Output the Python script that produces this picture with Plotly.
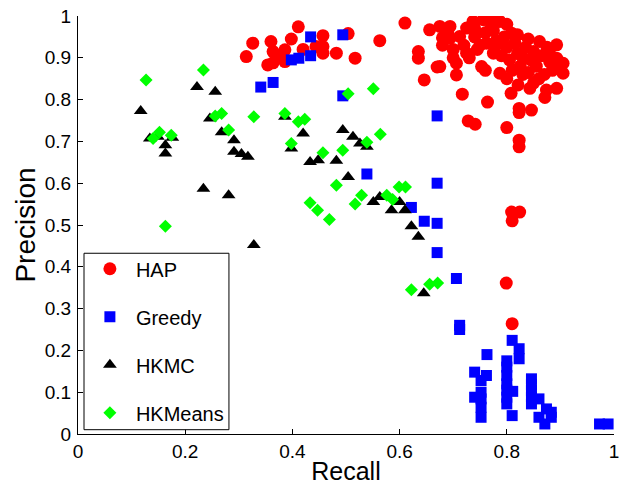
import plotly.graph_objects as go

# ---- data (Recall, Precision) ----
hap_recall = [0.314, 0.326, 0.354, 0.360, 0.364, 0.364, 0.372, 0.386, 0.386, 0.398, 0.411, 0.420,
              0.444, 0.457, 0.457, 0.457, 0.482, 0.504, 0.517, 0.563, 0.610, 0.635, 0.635, 0.646,
              0.656, 0.670, 0.675, 0.680, 0.675, 0.694, 0.690, 0.706, 0.706, 0.712, 0.694, 0.720,
              0.725, 0.725, 0.737, 0.740, 0.745, 0.753, 0.756, 0.760, 0.762, 0.771, 0.775, 0.775,
              0.780, 0.787, 0.790, 0.787, 0.795, 0.800, 0.805, 0.809, 0.810, 0.815, 0.820, 0.825,
              0.830, 0.835, 0.840, 0.845, 0.850, 0.855, 0.861, 0.865, 0.870, 0.875, 0.880, 0.885,
              0.893, 0.893, 0.905, 0.905, 0.893, 0.874, 0.871, 0.843, 0.821, 0.808, 0.717, 0.764,
              0.823, 0.823, 0.846, 0.728, 0.741, 0.800, 0.823, 0.823, 0.809, 0.824, 0.810, 0.799,
              0.810, 0.700, 0.730, 0.760, 0.800, 0.860, 0.850, 0.770, 0.740, 0.700, 0.680, 0.800,
              0.780, 0.750, 0.830, 0.880, 0.890, 0.820, 0.840]
hap_precision = [0.903, 0.935, 0.883, 0.939, 0.915, 0.888, 0.905, 0.919, 0.891, 0.945, 0.974, 0.920,
                 0.927, 0.953, 0.927, 0.911, 0.911, 0.958, 0.899, 0.941, 0.983, 0.915, 0.899, 0.847,
                 0.967, 0.878, 0.975, 0.948, 0.879, 0.975, 0.960, 0.887, 0.859, 0.951, 0.947, 0.930,
                 0.971, 0.911, 0.987, 0.950, 0.920, 0.879, 0.991, 0.960, 0.935, 0.991, 0.965, 0.911,
                 0.940, 0.987, 0.905, 0.863, 0.950, 0.925, 0.895, 0.959, 0.870, 0.935, 0.910, 0.880,
                 0.900, 0.925, 0.865, 0.895, 0.915, 0.880, 0.939, 0.905, 0.860, 0.925, 0.890, 0.870,
                 0.931, 0.899, 0.887, 0.863, 0.827, 0.823, 0.805, 0.827, 0.835, 0.815, 0.813, 0.794,
                 0.779, 0.769, 0.775, 0.749, 0.741, 0.733, 0.703, 0.687, 0.531, 0.531, 0.510, 0.361,
                 0.264, 0.920, 0.900, 0.870, 0.850, 0.850, 0.840, 0.970, 0.970, 0.900, 0.930, 0.980,
                 0.930, 0.930, 0.860, 0.910, 0.875, 0.955, 0.945]

greedy_recall = [0.341, 0.364, 0.398, 0.412, 0.434, 0.434, 0.494, 0.494, 0.670, 0.539, 0.670, 0.622,
                 0.646, 0.670, 0.670, 0.706, 0.712, 0.712, 0.810, 0.823, 0.823, 0.763, 0.740, 0.762,
                 0.752, 0.800, 0.800, 0.811, 0.800, 0.800, 0.810, 0.740, 0.752, 0.752, 0.752, 0.846,
                 0.846, 0.846, 0.860, 0.860, 0.871, 0.874, 0.883, 0.883, 0.973, 0.989, 0.752, 0.800,
                 0.800, 0.800, 0.846, 0.846]
greedy_precision = [0.830, 0.841, 0.895, 0.899, 0.905, 0.950, 0.955, 0.809, 0.761, 0.622, 0.600, 0.542,
                    0.509, 0.504, 0.434, 0.372, 0.260, 0.250, 0.224, 0.204, 0.180, 0.190, 0.148, 0.140,
                    0.128, 0.140, 0.120, 0.102, 0.088, 0.072, 0.044, 0.088, 0.084, 0.064, 0.040, 0.132,
                    0.104, 0.072, 0.084, 0.040, 0.024, 0.060, 0.052, 0.040, 0.024, 0.024, 0.100, 0.105,
                    0.160, 0.175, 0.118, 0.088]

hkmc_recall = [0.117, 0.149, 0.163, 0.176, 0.163, 0.134, 0.222, 0.256, 0.246, 0.268, 0.291, 0.291,
               0.305, 0.317, 0.234, 0.281, 0.328, 0.386, 0.420, 0.398, 0.433, 0.448, 0.482, 0.494,
               0.513, 0.526, 0.539, 0.504, 0.551, 0.563, 0.585, 0.600, 0.610, 0.622, 0.635, 0.645]
hkmc_precision = [0.773, 0.711, 0.691, 0.709, 0.671, 0.707, 0.830, 0.819, 0.755, 0.722, 0.703, 0.675,
                  0.670, 0.663, 0.587, 0.571, 0.452, 0.759, 0.719, 0.683, 0.651, 0.655, 0.654, 0.727,
                  0.711, 0.695, 0.687, 0.615, 0.555, 0.567, 0.535, 0.555, 0.535, 0.497, 0.472, 0.337]

hkmeans_recall = [0.127, 0.234, 0.140, 0.152, 0.174, 0.256, 0.268, 0.281, 0.328, 0.163, 0.386, 0.411,
                  0.423, 0.398, 0.457, 0.494, 0.504, 0.551, 0.539, 0.564, 0.482, 0.529, 0.517, 0.433,
                  0.447, 0.469, 0.576, 0.587, 0.599, 0.611, 0.622, 0.656, 0.671]
hkmeans_precision = [0.847, 0.871, 0.707, 0.722, 0.715, 0.761, 0.767, 0.727, 0.759, 0.497, 0.767, 0.747,
                     0.753, 0.695, 0.673, 0.679, 0.814, 0.826, 0.698, 0.717, 0.595, 0.571, 0.550, 0.553,
                     0.535, 0.513, 0.571, 0.561, 0.591, 0.591, 0.345, 0.358, 0.361]

x_ticks = [0, 0.2, 0.4, 0.6, 0.8, 1]
x_tick_labels = ["0", "0.2", "0.4", "0.6", "0.8", "1"]
y_ticks = [0, 0.1, 0.2, 0.3, 0.4, 0.5, 0.6, 0.7, 0.8, 0.9, 1]
y_tick_labels = ["0", "0.1", "0.2", "0.3", "0.4", "0.5", "0.6", "0.7", "0.8", "0.9", "1"]

FONT = "Liberation Sans, Arial, Helvetica, sans-serif"

fig = go.Figure()
series = [
    ("HAP", hap_recall, hap_precision, "circle", 13, "#FF0000"),
    ("Greedy", greedy_recall, greedy_precision, "square", 11, "#0000FF"),
    ("HKMC", hkmc_recall, hkmc_precision, "triangle-up", 12, "#000000"),
    ("HKMeans", hkmeans_recall, hkmeans_precision, "diamond", 10, "#00FF00"),
]
for name, xs, ys, sym, size, col in series:
    fig.add_trace(go.Scatter(
        x=xs, y=ys, mode="markers", name=name, legendgroup=name,
        marker=dict(symbol=sym, size=size, color=col, line=dict(width=0)),
    ))

axis_common = dict(
    showgrid=False, zeroline=False, showline=True, linecolor="black", linewidth=1,
    ticks="inside", ticklen=5, tickcolor="black", tickwidth=1, mirror=False,
    tickfont=dict(family=FONT, size=19, color="black"), automargin=False,
)
fig.update_xaxes(range=[0, 1], tickvals=x_ticks, ticktext=x_tick_labels,
                 ticklabelstandoff=0,
                 title=dict(text="Recall", font=dict(family=FONT, size=25, color="black"), standoff=10),
                 **axis_common)
fig.update_yaxes(range=[0, 1], tickvals=y_ticks, ticktext=y_tick_labels,
                 ticklabelstandoff=2,
                 title=dict(text="Precision", font=dict(family=FONT, size=28, color="black"), standoff=0),
                 **axis_common)

# legend frame (drawn as a shape so its size can match the reference)
fig.add_shape(type="rect", xref="paper", yref="paper",
              x0=0.0112, x1=0.2816, y0=0.0103, y1=0.4324,
              line=dict(color="black", width=1), fillcolor="white", layer="above")

fig.update_layout(
    width=629, height=485,
    margin=dict(l=78, r=15, t=16, b=51),
    plot_bgcolor="white", paper_bgcolor="white",
    font=dict(family=FONT, color="black"),
    legend=dict(
        x=0.011, y=0.442, xanchor="left", yanchor="top",
        borderwidth=0, bgcolor="rgba(0,0,0,0)",
        font=dict(family=FONT, size=20, color="black"),
        tracegroupgap=19, itemsizing="trace", itemwidth=42,
    ),
)

fig.write_html("out.html")
